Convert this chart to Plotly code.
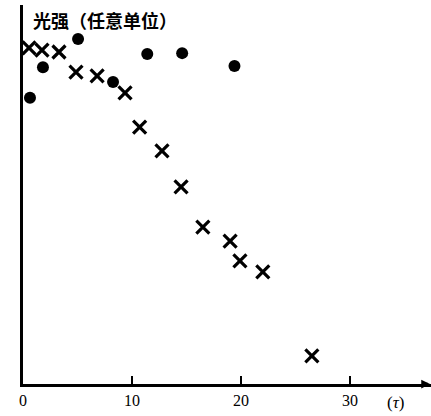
import plotly.graph_objects as go

# data (time in units of tau, light intensity in arbitrary units)
cross_t = [0.55, 1.74, 3.3, 4.86, 6.8, 9.36, 10.7, 12.75, 14.5, 16.5, 19.0, 19.9, 22.0, 26.5]
cross_i = [88.7, 88.1, 87.6, 82.3, 81.3, 76.8, 67.8, 61.5, 52.0, 41.4, 37.7, 32.5, 29.6, 7.4]
dot_t = [0.64, 1.83, 5.05, 8.26, 11.4, 14.6, 19.4]
dot_i = [75.5, 83.6, 91.0, 79.7, 87.1, 87.3, 83.9]
x_ticks = [0, 10, 20, 30]
x_tick_labels = ["0", "10", "20", "30"]
y_title = "光强（任意单位）"
x_unit = "(<i>τ</i>)"

fig = go.Figure()
fig.add_trace(go.Scatter(
    x=cross_t, y=cross_i, mode="markers",
    marker=dict(symbol="x-thin-open", size=13, line=dict(color="black", width=3.2), color="black"),
    showlegend=False, cliponaxis=False))
fig.add_trace(go.Scatter(
    x=dot_t, y=dot_i, mode="markers",
    marker=dict(symbol="circle", size=12, color="black"),
    showlegend=False, cliponaxis=False))

fig.update_layout(
    width=431, height=416,
    margin=dict(l=23, r=0, t=5, b=32),
    paper_bgcolor="white", plot_bgcolor="white",
    font=dict(family="Liberation Serif", color="black", size=15),
    xaxis=dict(range=[0, 37.43], tickvals=x_ticks, ticktext=x_tick_labels,
               showgrid=False, zeroline=False, showline=True, linecolor="black", linewidth=2.5,
               ticks="inside", ticklen=8, tickwidth=2, tickcolor="black",
               tickfont=dict(family="Liberation Serif", size=16)),
    yaxis=dict(range=[0, 100], showticklabels=False, ticks="", showgrid=False, zeroline=False,
               showline=True, linecolor="black", linewidth=3),
)

fig.add_annotation(xref="paper", yref="paper", x=0.02, y=1.0, xanchor="left", yanchor="top",
                   yshift=0, text=y_title, showarrow=False,
                   font=dict(family="Noto Sans CJK SC", size=18, color="black", weight="bold"))
fig.add_annotation(xref="x", yref="paper", x=34.2, y=0, yshift=-18, xanchor="center", yanchor="middle",
                   text=x_unit, showarrow=False,
                   font=dict(family="Liberation Serif", size=17, color="black"))
fig.add_annotation(xref="paper", yref="paper", x=1.0, y=0, ax=-8, ay=0, axref="pixel", ayref="pixel",
                   text="", showarrow=True, arrowhead=2, arrowsize=0.7, arrowwidth=2.5, arrowcolor="black")

fig.write_html("out.html", config={"displayModeBar": False},
               post_script="document.body.style.margin='0';document.body.style.overflow='hidden';")
